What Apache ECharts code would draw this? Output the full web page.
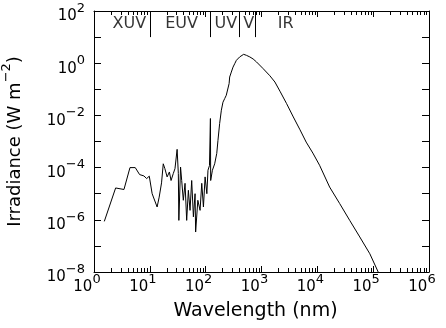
<!DOCTYPE html>
<html><head><meta charset="utf-8">
<script src="https://cdn.jsdelivr.net/npm/echarts@6/dist/echarts.min.js"></script>
<style>html,body{margin:0;padding:0;background:#fff}#c{width:446px;height:328px}</style>
</head><body><div id="c"></div>
<script>
// Solar spectral irradiance (wavelength in nm, irradiance in W m^-2)
const wavelength = [1.53, 2.44, 3.44, 4.41, 5.48, 6.56, 7.83, 8.77, 9.77, 11.0, 13.5, 14.7, 16.2, 17.4, 18.6, 20.4, 22.4, 24.0, 26.3, 28.2, 30.8, 32.4, 33.1, 35.5, 37.2, 39.8, 42.7, 45.7, 49.0, 52.5, 56.2, 60.3, 64.6, 66.1, 72.4, 79.4, 85.1, 91.2, 97.7, 105, 110, 117, 121.6, 123, 132, 145, 158, 166, 178, 191, 204, 219, 234, 251, 263, 269, 288, 309, 331, 355, 380, 407, 437, 479, 537, 617, 708, 813, 1072, 1413, 1738, 2138, 2818, 3715, 4898, 6310, 8318, 10965, 16596, 25119, 38019, 57544, 87096, 123027];
const irradiance = [8.7e-7, 1.66e-5, 1.45e-5, 1.0e-4, 1.0e-4, 5.4e-5, 4.8e-5, 3.8e-5, 4.7e-5, 1.0e-5, 3.1e-6, 7.4e-6, 2.6e-5, 1.4e-4, 9.1e-5, 4.4e-5, 6.8e-5, 3.2e-5, 5.9e-5, 9.1e-5, 5.0e-4, 5.9e-5, 9.5e-7, 1.05e-4, 3.2e-5, 5.6e-6, 2.5e-5, 9.5e-7, 1.35e-5, 2.3e-6, 3.2e-5, 1.3e-6, 1.0e-5, 3.4e-7, 5.6e-6, 2.3e-6, 2.5e-5, 3.1e-6, 4.4e-5, 1.0e-5, 7.9e-5, 1.2e-4, 7.6e-3, 3.2e-5, 7.9e-5, 1.4e-4, 3.5e-4, 1.1e-3, 4.9e-3, 1.58e-2, 3.2e-2, 4.4e-2, 5.9e-2, 6.9e-2, 0.166, 0.295, 0.457, 0.708, 0.955, 1.29, 1.51, 1.74, 2.0, 2.19, 2.0, 1.74, 1.45, 1.12, 0.617, 0.33, 0.19, 0.085, 0.0282, 8.7e-3, 2.8e-3, 9.5e-4, 3.6e-4, 1.23e-4, 1.8e-5, 4.2e-6, 9.5e-7, 2.2e-7, 5.0e-8, 1.0e-8];

// Axis ranges and labelled tick exponents
const xRange = [1, 1e6];
const yRange = [1e-8, 1e2];
const xLabelExp = [0, 1, 2, 3, 4, 5, 6];
const yLabelExp = [-8, -6, -4, -2, 0, 2];
const minorMultipliers = [2, 3, 4, 5, 6, 7, 8, 9];

// Spectral band boundaries (nm) and band names with label positions (nm)
const bandEdges = [10, 120, 400, 760];
const bandNames = ['XUV', 'EUV', 'UV', 'V', 'IR'];
const bandLabelAt = [4.3, 37, 230, 590, 2700];
const bandEdgeBottom = 10; // W m^-2, lower end of the boundary marks
const bandLabelLevel = 33;  // W m^-2

const FONT = 'DejaVu Sans';
const minorTicks = [];
for (let e = 0; e < 6; e++) minorMultipliers.forEach(m => minorTicks.push(m * Math.pow(10, e)));

const rich = {
  b: {fontFamily: FONT, fontSize: 15, lineHeight: 22, verticalAlign: 'bottom', color: '#000'},
  s: {fontFamily: FONT, fontSize: 13, lineHeight: 12, verticalAlign: 'top', color: '#000'}
};
function expLabel(v, list) {
  const e = Math.round(Math.log10(v));
  if (list.indexOf(e) < 0) return '';
  return '{b|10}{s|' + (e < 0 ? '\u2212' + (-e) : e) + '}';
}
const lineStyle = {color: '#000', width: 1};
function xAxisDef(pos, labels) {
  return {
    type: 'log', logBase: 10, min: xRange[0], max: xRange[1], interval: 1, splitNumber: 6, position: pos,
    axisLine: {show: true, onZero: false, lineStyle},
    axisTick: {show: true, inside: true, length: 6, lineStyle},
    splitLine: {show: false},
    axisLabel: labels ? {show: true, margin: 1, formatter: v => expLabel(v, xLabelExp), rich, padding: [0, 14, 0, 0]} : {show: false},
    name: labels ? 'Wavelength (nm)' : '', nameLocation: 'middle', nameGap: 30,
    nameTextStyle: {fontFamily: FONT, fontSize: 19, color: '#000', padding: [0, 12, 0, 0]}
  };
}
function yAxisDef(pos, labels) {
  return {
    type: 'log', logBase: 10, min: yRange[0], max: yRange[1], interval: 1, splitNumber: 10, position: pos,
    axisLine: {show: true, onZero: false, lineStyle},
    axisTick: {show: true, inside: true, length: 7, lineStyle},
    splitLine: {show: false},
    axisLabel: labels ? {show: true, margin: 9, formatter: v => expLabel(v, yLabelExp), rich, padding: [4, 0, 0, 0]} : {show: false},
    name: labels ? '{a|Irradiance (W m}{s|\u22122}{a|)}' : '', nameLocation: 'middle', nameRotate: 90, nameGap: 70,
    nameTextStyle: {rich: {
      a: {fontFamily: FONT, fontSize: 18, lineHeight: 24, verticalAlign: 'bottom', color: '#000'},
      s: {fontFamily: FONT, fontSize: 13, lineHeight: 13, verticalAlign: 'top', color: '#000'}
    }}
  };
}

const chart = echarts.init(document.getElementById('c'), null, {renderer: 'canvas'});
chart.setOption({
  animation: false,
  backgroundColor: '#fff',
  grid: {left: 94, right: 17, top: 11, bottom: 56, containLabel: false, outerBoundsMode: 'none'},
  xAxis: [xAxisDef('bottom', true), xAxisDef('top', false)],
  yAxis: [yAxisDef('left', true), yAxisDef('right', false)],
  series: [
    {
      type: 'line', xAxisIndex: 0, yAxisIndex: 0,
      data: wavelength.map((w, i) => [w, irradiance[i]]),
      symbol: 'none', showSymbol: false, lineStyle: {color: '#000', width: 1}, clip: true, silent: true
    },
    {
      type: 'custom', xAxisIndex: 0, yAxisIndex: 0, silent: true, clip: false,
      data: minorTicks.map(v => [v, yRange[0]]),
      renderItem: (params, api) => {
        const v = api.value(0);
        const b = api.coord([v, yRange[0]]);
        const t = api.coord([v, yRange[1]]);
        const x = Math.round(b[0]) + 0.5;
        return {type: 'group', children: [
          {type: 'line', shape: {x1: x, y1: b[1], x2: x, y2: b[1] - 4}, style: {stroke: '#000', lineWidth: 1}},
          {type: 'line', shape: {x1: x, y1: t[1], x2: x, y2: t[1] + 4}, style: {stroke: '#000', lineWidth: 1}}
        ]};
      }
    },
    {
      type: 'custom', xAxisIndex: 0, yAxisIndex: 0, silent: true, clip: false,
      data: bandEdges.map(v => [v, yRange[1]]),
      renderItem: (params, api) => {
        const v = api.value(0);
        const t = api.coord([v, yRange[1]]);
        const b = api.coord([v, bandEdgeBottom]);
        const x = Math.round(t[0]) + 0.5;
        return {type: 'line', shape: {x1: x, y1: t[1], x2: x, y2: b[1]}, style: {stroke: '#000', lineWidth: 1}};
      }
    },
    {
      type: 'scatter', xAxisIndex: 0, yAxisIndex: 0, silent: true, symbolSize: 0,
      data: bandLabelAt.map((w, i) => ({value: [w, bandLabelLevel], name: bandNames[i]})),
      label: {show: true, position: 'inside', formatter: '{b}', color: '#000', fontFamily: FONT, fontSize: 16}
    }
  ]
});
</script>
</body></html>
